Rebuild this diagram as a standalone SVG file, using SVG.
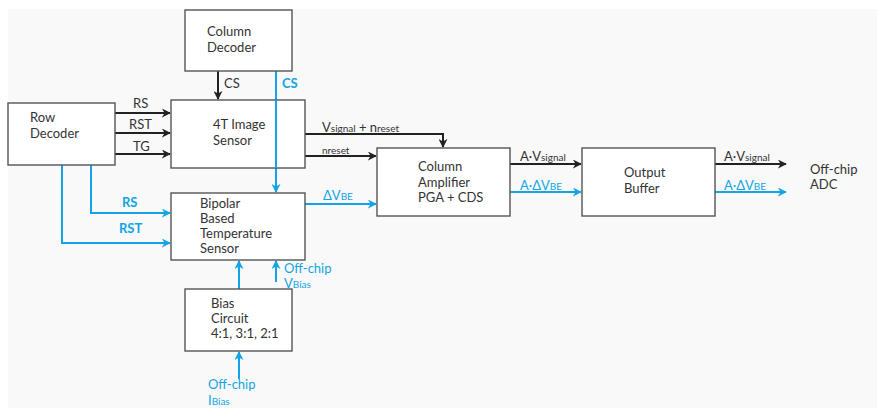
<svg xmlns="http://www.w3.org/2000/svg" width="877" height="408" viewBox="0 0 877 408">
<defs>
<marker id="ak" viewBox="0 0 10 10" refX="9" refY="5" markerWidth="9" markerHeight="9" markerUnits="userSpaceOnUse" orient="auto"><path d="M0,0 L10,5 L0,10 L3,5 Z" fill="#222"/></marker>
<marker id="ab" viewBox="0 0 10 10" refX="9" refY="5" markerWidth="9" markerHeight="9" markerUnits="userSpaceOnUse" orient="auto"><path d="M0,0 L10,5 L0,10 L3,5 Z" fill="#12a4e4"/></marker>
</defs>
<style>
.box{fill:#fff;stroke:#555;stroke-width:1.4}
.t{font-family:Lato,"Open Sans","Liberation Sans",sans-serif;font-size:13px;fill:#333}
.l{font-family:Lato,"Open Sans","Liberation Sans",sans-serif;font-size:13px;fill:#333}
.bl{font-family:Lato,"Open Sans","Liberation Sans",sans-serif;font-size:13px;fill:#12a4e4}
.bb{font-weight:bold}
.s{font-size:10px}
.k{fill:none;stroke:#222;stroke-width:2;marker-end:url(#ak)}
.b{fill:none;stroke:#12a4e4;stroke-width:2;marker-end:url(#ab)}
</style>
<rect x="0" y="0" width="877" height="408" fill="#fff"/>
<rect x="8" y="9" width="869" height="399" fill="#f9f9f9"/>

<g id="connectors">
<path class="k" d="M218,71 V99"/>
<path class="b" d="M276,71 V192"/>
<path class="k" d="M115,113 H170"/>
<path class="k" d="M115,133 H170"/>
<path class="k" d="M115,154 H170"/>
<path class="b" d="M91,165 V213 H170"/>
<path class="b" d="M62,165 V243 H170"/>
<path class="k" d="M305,134 H443 V147"/>
<path class="k" d="M305,156 H376"/>
<path class="b" d="M305,204 H376"/>
<path class="k" d="M510,164 H581"/>
<path class="b" d="M510,192 H581"/>
<path class="k" d="M715,164 H786"/>
<path class="b" d="M715,192 H786"/>
<path class="b" d="M239,289 V261"/>
<path class="b" d="M276,282 V261"/>
<path class="b" d="M239,379 V352"/>
</g>

<g id="labels">
<text class="l" x="224" y="88">CS</text>
<text class="bl bb" x="282" y="88">CS</text>
<text class="l" x="133" y="108">RS</text>
<text class="l" x="129" y="129">RST</text>
<text class="l" x="133" y="151">TG</text>
<text class="bl bb" x="122" y="207">RS</text>
<text class="bl bb" x="119" y="233">RST</text>
<text class="l" x="322" y="132">V<tspan class="s">signal</tspan> + n<tspan class="s">reset</tspan></text>
<text class="l" x="322" y="154"><tspan class="s">nreset</tspan></text>
<text class="bl" x="323" y="200">ΔV<tspan class="s">BE</tspan></text>
<text class="l" x="520" y="161">A·V<tspan class="s">signal</tspan></text>
<text class="bl" x="520" y="190">A·ΔV<tspan class="s">BE</tspan></text>
<text class="l" x="724" y="161">A·V<tspan class="s">signal</tspan></text>
<text class="bl" x="724" y="190">A·ΔV<tspan class="s">BE</tspan></text>
<text class="bl" x="284" y="273">Off-chip</text>
<text class="bl" x="284" y="288">V<tspan class="s">Bias</tspan></text>
<text class="bl" x="208" y="389">Off-chip</text>
<text class="bl" x="208" y="405">I<tspan class="s">Bias</tspan></text>
<text class="t" x="810" y="174">Off-chip</text>
<text class="t" x="810" y="189">ADC</text>
</g>

<g id="column-decoder">
<rect class="box" x="185" y="10" width="107" height="61"/>
<text class="t" x="207" y="36">Column</text>
<text class="t" x="207" y="52">Decoder</text>
</g>
<g id="row-decoder">
<rect class="box" x="8" y="103" width="107" height="62"/>
<text class="t" x="30" y="122">Row</text>
<text class="t" x="30" y="138">Decoder</text>
</g>
<g id="image-sensor">
<rect class="box" x="171" y="100" width="134" height="68"/>
<text class="t" x="213" y="129">4T Image</text>
<text class="t" x="213" y="145">Sensor</text>
</g>
<g id="temp-sensor">
<rect class="box" x="171" y="193" width="134" height="67"/>
<text class="t" x="200" y="208">Bipolar</text>
<text class="t" x="200" y="223">Based</text>
<text class="t" x="200" y="238">Temperature</text>
<text class="t" x="200" y="253">Sensor</text>
</g>
<g id="bias-circuit">
<rect class="box" x="185" y="289" width="107" height="62"/>
<text class="t" x="211" y="308">Bias</text>
<text class="t" x="211" y="323">Circuit</text>
<text class="t" x="211" y="338">4:1, 3:1, 2:1</text>
</g>
<g id="column-amplifier">
<rect class="box" x="377" y="148" width="133" height="68"/>
<text class="t" x="418" y="171">Column</text>
<text class="t" x="418" y="187">Amplifier</text>
<text class="t" x="418" y="202">PGA + CDS</text>
</g>
<g id="output-buffer">
<rect class="box" x="582" y="148" width="133" height="68"/>
<text class="t" x="624" y="177">Output</text>
<text class="t" x="624" y="193">Buffer</text>
</g>
<g id="cs-line-over">
<path d="M276,100 V168" stroke="#12a4e4" stroke-width="2" fill="none"/>
</g>
</svg>
